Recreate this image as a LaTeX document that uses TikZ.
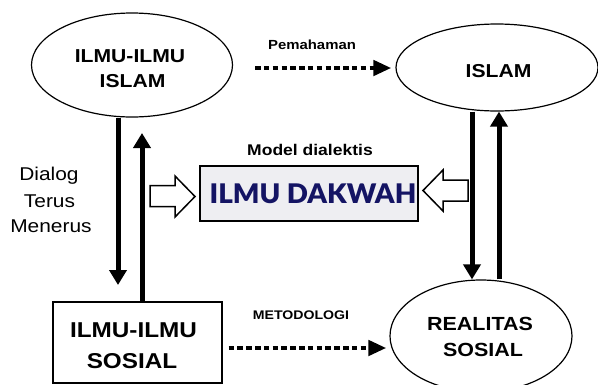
\documentclass[tikz,border=0pt]{standalone}
\usepackage{fontspec}
\setmainfont{Liberation Sans}[FakeStretch=1.13]
\IfFontExistsTF{Lato Black}
  {\newfontfamily\dakfont{Lato Black}[FakeStretch=1.03]\def\dakshape{}}
  {\newfontfamily\dakfont{Liberation Sans}[FakeStretch=1.03]\def\dakshape{\bfseries}}
\usetikzlibrary{shapes.geometric,arrows.meta}
\definecolor{navy}{RGB}{20,20,100}
\definecolor{boxgray}{RGB}{238,238,242}
\tikzset{
  oval/.style={draw, line width=1.2pt, ellipse, inner sep=0pt},
  sqbox/.style={draw, line width=1.2pt, rectangle, inner sep=0pt},
  bigtxt/.style={font=\fontsize{18.7}{22}\selectfont\bfseries, anchor=base, inner sep=0pt},
  sostxt/.style={font=\fontsize{21.5}{24}\selectfont\bfseries, anchor=base, inner sep=0pt},
  regtxt/.style={font=\fontsize{18.5}{22}\selectfont, anchor=base, inner sep=0pt},
  bigarrow/.style={line width=5pt, -{Triangle[width=17pt,length=15pt]}},
  dotarrow/.style={line width=4.8pt, dash pattern=on 5.5pt off 3.3pt, -{Triangle[width=15pt,length=18pt]}},
  blockarrow/.style={draw, line width=1.5pt, fill=white, line join=miter},
}
\begin{document}
\begin{tikzpicture}[x=1pt,y=-1pt]
\useasboundingbox (0,0) rectangle (598,384);
% shapes
\node[oval, minimum width=201pt, minimum height=104pt] (e1) at (132,65) {};
\node[oval, minimum width=202pt, minimum height=87pt] (e2) at (497,67.5) {};
\node[oval, minimum width=182pt, minimum height=112pt] (e3) at (481,336) {};
\node[sqbox, minimum width=169pt, minimum height=81pt] (rs) at (137.5,342.5) {};
\node[sqbox, fill=boxgray, minimum width=218pt, minimum height=55pt] (dk) at (309,193.5) {};
% texts
\node[bigtxt] (t1a) at (130,62) {ILMU-ILMU};
\node[bigtxt] (t1b) at (132.5,87) {ISLAM};
\node[bigtxt] (t2) at (498.5,77) {ISLAM};
\node[bigtxt, font=\fontsize{19}{22}\selectfont\bfseries] (t3a) at (480,330) {REALITAS};
\node[bigtxt, font=\fontsize{19}{22}\selectfont\bfseries] (t3b) at (483,356) {SOSIAL};
\node[sostxt] (t4a) at (133.5,337) {ILMU-ILMU};
\node[sostxt] (t4b) at (132,368) {SOSIAL};
\node[anchor=base, inner sep=0pt, text=navy, font={\dakfont\dakshape\fontsize{27}{30}\selectfont}] (dt) at (313,203) {ILMU DAKWAH};
\node[anchor=base, inner sep=0pt, font=\fontsize{15.5}{18}\selectfont\bfseries] (md) at (310,155) {Model dialektis};
\node[anchor=base, inner sep=0pt, font=\fontsize{13.2}{16}\selectfont\bfseries] (pm) at (312,49) {Pemahaman};
\node[anchor=base, inner sep=0pt, font=\fontsize{12.5}{15}\selectfont\bfseries] (mt) at (301,319) {METODOLOGI};
\node[regtxt] (d1) at (49,180) {Dialog};
\node[regtxt] (d2) at (49.5,207) {Terus};
\node[regtxt] (d3) at (51,232) {Menerus};
% vertical arrows
\coordinate (ld) at (118,0);
\coordinate (lu) at (142,0);
\coordinate (ldtip) at (118,285);
\coordinate (lutip) at (142,133);
\coordinate (rd) at (472,0);
\coordinate (ru) at (499,0);
\draw[bigarrow] (e1.south -| ld) -- (ldtip);
\draw[bigarrow] (rs.north -| lu) -- (lutip);
\draw[bigarrow] (e2.south -| rd) -- (e3.north -| rd);
\draw[bigarrow] (e3.north -| ru) -- (e2.south -| ru);
% block arrows
\draw[blockarrow] (150,185.5) -- (175,185.5) -- (175,176) -- (195,196.5) -- (175,217) -- (175,206.5) -- (150,206.5) -- cycle;
\draw[blockarrow] (468,180) -- (443,180) -- (443,170) -- (423,190.5) -- (443,211) -- (443,201) -- (468,201) -- cycle;
% dotted arrows
\draw[dotarrow] ([shift={(22pt,-3pt)}]e1.east) -- ([shift={(-4pt,-0.5pt)}]e2.west);
\path ([shift={(6pt,-5.5pt)}]rs.east) coordinate (m1);
\draw[dotarrow, shorten >=3pt] (m1) -- (m1 -| e3.west);
\end{tikzpicture}
\end{document}
